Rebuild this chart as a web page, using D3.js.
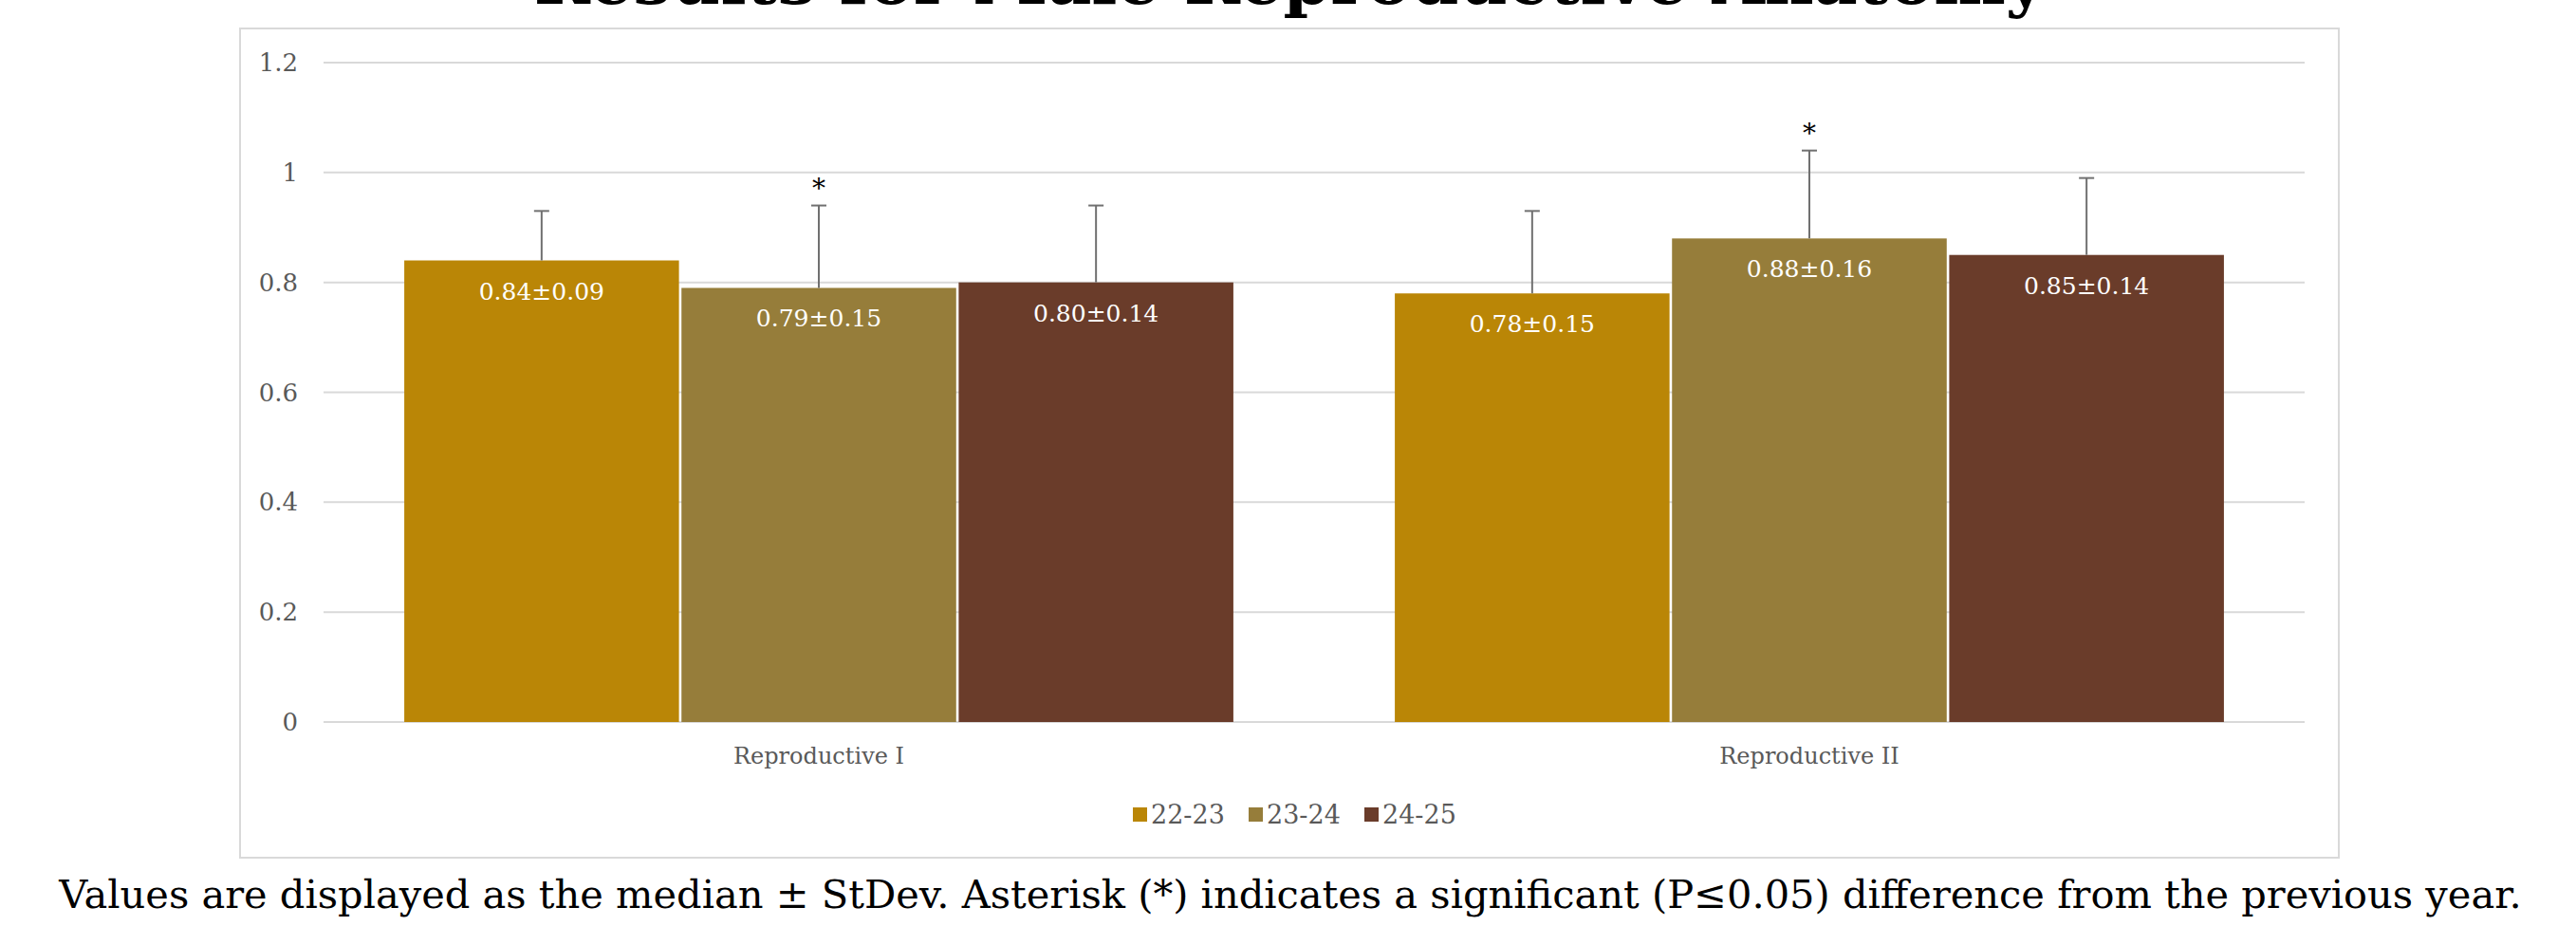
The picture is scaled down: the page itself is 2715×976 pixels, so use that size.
<html><head>
<meta charset="utf-8">
<title>Results for Male Reproductive Anatomy</title>
<script src="https://d3js.org/d3.v7.min.js"></script>
<style>
body {
  margin: 0;
  background: #fff;
}
svg text {
  font-family: Georgia, 'DejaVu Serif', serif;
}
</style>
</head>
<body>
<svg id="chart" width="2715" height="976"></svg>
<script>
// data
const categories = ['Reproductive I', 'Reproductive II'];
const years = ['22-23', '23-24', '24-25'];
const medians = {
  '22-23': [0.84, 0.78],
  '23-24': [0.79, 0.88],
  '24-25': [0.80, 0.85]
};
const stdevs = {
  '22-23': [0.09, 0.15],
  '23-24': [0.15, 0.16],
  '24-25': [0.14, 0.14]
};
const significant = {
  '22-23': [false, false],
  '23-24': [true, true],
  '24-25': [false, false]
};
const yTicks = [0, 0.2, 0.4, 0.6, 0.8, 1, 1.2];
const colors = ['#BA8606', '#967D3A', '#6A3C2A'];

const svg = d3.select('#chart');

// outer frame of the chart area
svg.append('rect')
  .attr('x', 253).attr('y', 30)
  .attr('width', 2212).attr('height', 874)
  .attr('fill', '#fff')
  .attr('stroke', '#d9d9d9')
  .attr('stroke-width', 2);

const y = d3.scaleLinear().domain([0, 1.2]).range([761, 66]);
const x0 = d3.scaleBand().domain(categories)
  .range([341, 2429]).paddingInner(0.163).paddingOuter(0.0815);
const x1 = d3.scaleBand().domain(years)
  .range([0, x0.bandwidth()]).paddingInner(0.009);
const color = d3.scaleOrdinal().domain(years).range(colors);

// gridlines + y labels
const yAxis = svg.append('g');
yAxis.selectAll('line').data(yTicks).join('line')
  .attr('x1', 341).attr('x2', 2429)
  .attr('y1', d => y(d)).attr('y2', d => y(d))
  .attr('stroke', '#d9d9d9')
  .attr('stroke-width', 2);
yAxis.selectAll('text').data(yTicks).join('text')
  .attr('x', 314)
  .attr('y', d => y(d))
  .attr('dy', '0.35em')
  .attr('text-anchor', 'end')
  .attr('fill', '#595959')
  .style('font-size', '26px')
  .text(d => d);

// flatten for drawing
const rows = [];
categories.forEach((c, ci) => {
  years.forEach(yr => {
    rows.push({
      cat: c, year: yr,
      v: medians[yr][ci],
      sd: stdevs[yr][ci],
      sig: significant[yr][ci]
    });
  });
});
const cx = d => x0(d.cat) + x1(d.year) + x1.bandwidth() / 2;

// bars
svg.append('g').selectAll('rect').data(rows).join('rect')
  .attr('x', d => x0(d.cat) + x1(d.year))
  .attr('y', d => y(d.v))
  .attr('width', x1.bandwidth())
  .attr('height', d => y(0) - y(d.v))
  .attr('fill', d => color(d.year));

// error bars (plus direction only)
const eb = svg.append('g')
  .attr('stroke', '#707070')
  .attr('stroke-width', 2);
eb.selectAll('line.stem').data(rows).join('line')
  .attr('class', 'stem')
  .attr('x1', cx).attr('x2', cx)
  .attr('y1', d => y(d.v)).attr('y2', d => y(d.v + d.sd));
eb.selectAll('line.cap').data(rows).join('line')
  .attr('class', 'cap')
  .attr('x1', d => cx(d) - 8).attr('x2', d => cx(d) + 8)
  .attr('y1', d => y(d.v + d.sd)).attr('y2', d => y(d.v + d.sd));

// value labels inside bars
svg.append('g').selectAll('text').data(rows).join('text')
  .attr('x', cx)
  .attr('y', d => y(d.v) + 41)
  .attr('text-anchor', 'middle')
  .attr('fill', '#fff')
  .style('font-size', '25px')
  .text(d => d.v.toFixed(2) + '±' + d.sd.toFixed(2));

// significance asterisks
svg.append('g').selectAll('text').data(rows.filter(d => d.sig)).join('text')
  .attr('x', cx)
  .attr('y', d => y(d.v + d.sd) - 9)
  .attr('text-anchor', 'middle')
  .attr('fill', '#000')
  .style('font-size', '28px')
  .text('*');

// category labels
svg.append('g').selectAll('text').data(categories).join('text')
  .attr('x', d => x0(d) + x0.bandwidth() / 2)
  .attr('y', 797)
  .attr('dy', '0.35em')
  .attr('text-anchor', 'middle')
  .attr('fill', '#595959')
  .style('font-size', '24px')
  .text(d => d);

// legend
const legendX = [1194, 1316, 1438];
const legend = svg.append('g').selectAll('g').data(years).join('g')
  .attr('transform', (d, i) => `translate(${legendX[i]},859)`);
legend.append('rect')
  .attr('x', 0).attr('y', -8)
  .attr('width', 15).attr('height', 15)
  .attr('fill', d => color(d));
legend.append('text')
  .attr('x', 19).attr('y', 0)
  .attr('dy', '0.35em')
  .attr('fill', '#595959')
  .style('font-size', '27px')
  .text(d => d);

// stretch a text to a target width
function fitText(sel, target) {
  const size = parseFloat(sel.style('font-size'));
  const len = sel.node().getComputedTextLength();
  sel.style('font-size', (size * target / len) + 'px');
}

// title, mostly above the top edge
const title = svg.append('text')
  .attr('x', 1359).attr('y', 4)
  .attr('text-anchor', 'middle')
  .attr('fill', '#000')
  .style('font-weight', 'bold')
  .style('font-size', '60px')
  .text('Results for Male Reproductive Anatomy');
fitText(title, 1593);

// caption under the chart
const caption = svg.append('text')
  .attr('x', 1360).attr('y', 957)
  .attr('text-anchor', 'middle')
  .attr('fill', '#000')
  .style('font-size', '36px')
  .text('Values are displayed as the median ± StDev. Asterisk (*) indicates a significant (P≤0.05) difference from the previous year.');
fitText(caption, 2596);
</script>
</body></html>
